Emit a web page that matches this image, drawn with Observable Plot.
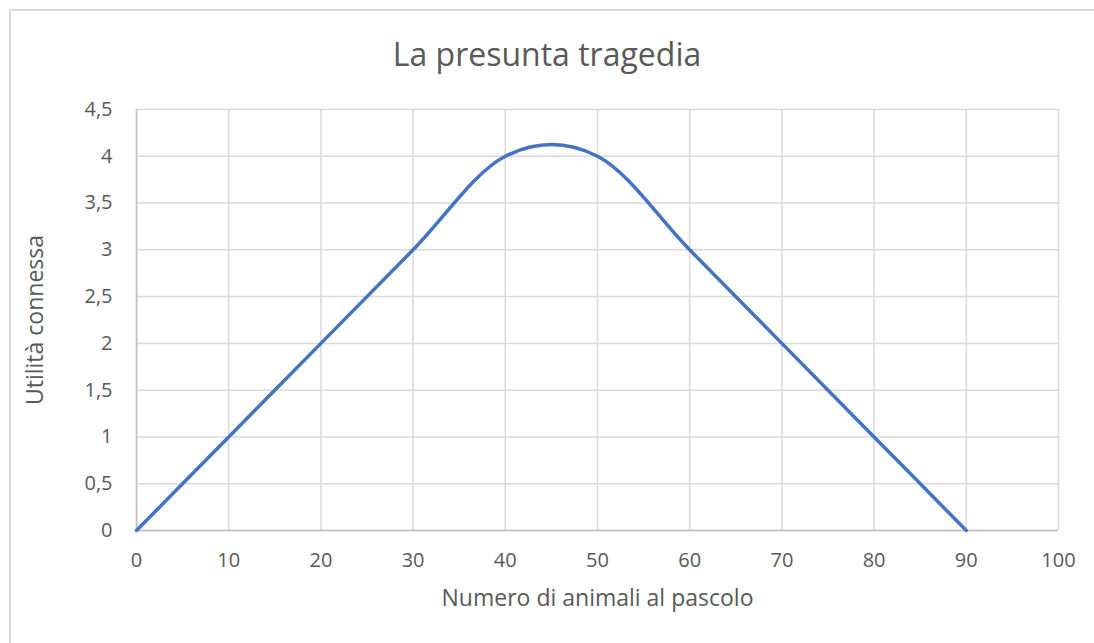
<!DOCTYPE html>
<html>
<head>
<meta charset="utf-8">
<script src="https://cdn.jsdelivr.net/npm/d3@7"></script>
<script src="https://cdn.jsdelivr.net/npm/@observablehq/plot@0.6"></script>
<style>
  html, body { margin: 0; padding: 0; background: #fff; overflow: hidden; }
  #wrap { position: relative; width: 1094px; height: 643px; overflow: hidden; font-family: "Open Sans", sans-serif; }
  #frame { position: absolute; left: 9px; top: 9px; width: 1085px; height: 634px; border-top: 2px solid #d9d9d9; border-left: 2px solid #d9d9d9; box-sizing: border-box; }
  #title { position: absolute; left: 0; width: 1094px; top: 32px; text-align: center; font-size: 32px; line-height: 44px; color: #595959; }
  #chart { position: absolute; left: 0; top: 0; }
</style>
</head>
<body>
<div id="wrap">
  <div id="frame"></div>
  <div id="chart"></div>
  <div id="title">La presunta tragedia</div>
</div>
<script>
const animali = [0, 10, 20, 30, 40, 50, 60, 70, 80, 90];
const utilita = [0, 1, 2, 3, 4, 4, 3, 2, 1, 0];
const xTicks = [0, 10, 20, 30, 40, 50, 60, 70, 80, 90, 100];
const yTicks = [0, 0.5, 1, 1.5, 2, 2.5, 3, 3.5, 4, 4.5];
const xLabel = "Numero di animali al pascolo";
const yLabel = "Utilità connessa";

const data = animali.map((x, i) => ({x, y: utilita[i]}));
const fmt = d => String(d).replace(".", ",");

const chart = Plot.plot({
  width: 1094,
  height: 643,
  marginLeft: 136,
  marginRight: 36,
  marginTop: 109,
  marginBottom: 113,
  style: {fontFamily: "Open Sans, sans-serif", fontSize: "20px", color: "#595959", background: "transparent"},
  x: {domain: [0, 100], ticks: xTicks, tickFormat: fmt, tickSize: 0, label: null},
  y: {domain: [0, 4.5], ticks: yTicks, tickFormat: fmt, tickSize: 0, label: null},
  marks: [
    Plot.gridX(xTicks, {stroke: "#d9d9d9", strokeOpacity: 1, strokeWidth: 1.5}),
    Plot.gridY(yTicks, {stroke: "#d9d9d9", strokeOpacity: 1, strokeWidth: 1.5}),
    Plot.ruleY([0], {stroke: "#bfbfbf", strokeWidth: 1.5}),
    Plot.ruleX([0], {stroke: "#bfbfbf", strokeWidth: 1.5}),
    Plot.axisX({ticks: xTicks, tickFormat: fmt, tickSize: 0, tickPadding: 22, fontSize: 20, fill: "#595959", label: null}),
    Plot.axisY({ticks: yTicks, tickFormat: fmt, tickSize: 0, tickPadding: 24, fontSize: 20, fill: "#595959", label: null}),
    Plot.line(data, {x: "x", y: "y", curve: "cardinal", tension: 0, stroke: "#4472C4", strokeWidth: 3.5}),
    Plot.text([xLabel], {frameAnchor: "bottom", dy: 75, fontSize: 23, fill: "#595959"}),
    Plot.text([yLabel], {frameAnchor: "left", dx: -101, rotate: -90, textAnchor: "middle", fontSize: 23, fill: "#595959"})
  ]
});
document.getElementById("chart").appendChild(chart);
</script>
</body>
</html>
